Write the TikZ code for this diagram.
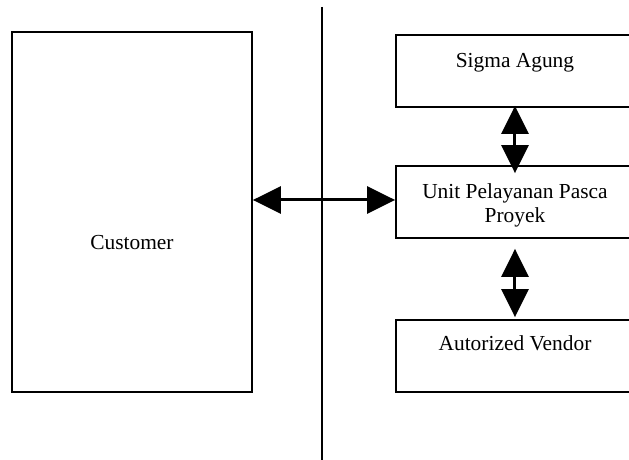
\documentclass[tikz,border=0pt]{standalone}
\usepackage{fontspec}
\setmainfont{Liberation Serif}
\usetikzlibrary{arrows.meta}
\tikzset{
    unitbox/.style={draw,line width=0.9pt,rectangle,inner sep=0pt,
        minimum width=119pt,minimum height=36pt,align=center},
    link/.style={line width=1.5pt,{Triangle[length=14pt,width=13.5pt]}-{Triangle[length=14pt,width=13.5pt]}}
}
\begin{document}
\begin{tikzpicture}[x=0.5pt,y=-0.5pt,font=\fontsize{10.7}{12}\selectfont]
        \clip (0,0) rectangle (629,460);
        %% Divider
        \coordinate (divtop) at (322,7);
        \coordinate (divbot) at (322,462);
        \draw[line width=0.7pt] (divtop) -- (divbot);
        %% Customer
        \node[draw,line width=0.9pt,rectangle,minimum width=120pt,minimum height=180pt]
            (customer) at (132,212) {};
        \node[anchor=base] (customertxt) at (132,250) {Customer};
        %% Right side
        \node[unitbox] (sigma) at (515,71) {};
        \node[anchor=base] (sigmatxt) at (515,68) {Sigma Agung};
        \node[unitbox] (unit) at (515,202) {};
        \node[align=center] (unittxt) at (515,205) {Unit Pelayanan Pasca\\Proyek};
        \node[unitbox] (vendor) at (515,356) {};
        \node[anchor=base] (vendortxt) at (515,351) {Autorized Vendor};
        %% Arrows
        \draw[link] (customer.east |- 0,200) -- (unit.west |- 0,200);
        \draw[link,shorten <=-1pt,shorten >=-4pt] (sigma.south) -- (unit.north);
        \draw[link,shorten <=5pt,shorten >=1pt] (unit.south) -- (vendor.north);
\end{tikzpicture}
\end{document}
